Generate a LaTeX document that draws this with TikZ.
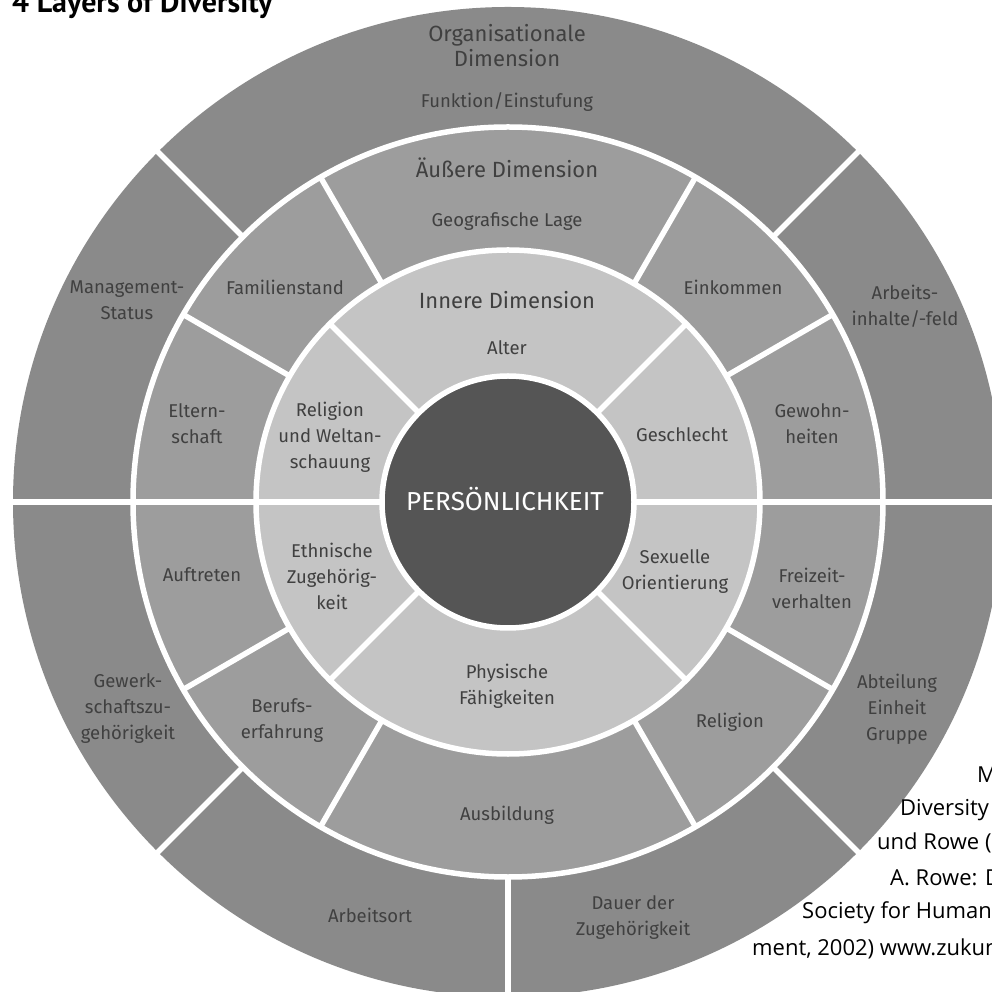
\documentclass[tikz,border=0pt]{standalone}
\usepackage{fontspec}
\setmainfont{Fira Sans}
\newfontfamily\dinfont{PT Sans}
\newfontfamily\citefont{Open Sans}
\usetikzlibrary{calc}
\definecolor{ringouter}{HTML}{8A8A8A}
\definecolor{ringmid}{HTML}{9D9D9D}
\definecolor{ringinner}{HTML}{C4C4C4}
\definecolor{kerngray}{HTML}{555555}
\definecolor{labeltext}{HTML}{404040}
\tikzset{
  gap/.style={draw=white,line width=5.5pt},
  lbl/.style={font=\fontsize{18.5}{26}\selectfont,text=labeltext,align=center,inner sep=0},
  head/.style={font=\fontsize{22}{25}\selectfont,text=labeltext,align=center,inner sep=0},
  cite/.style={font=\citefont\fontsize{22}{26}\selectfont,anchor=west,inner sep=0},
}
\begin{document}
\begin{tikzpicture}[x=10pt,y=10pt]
\useasboundingbox(-50.8,-49.0)rectangle(48.3,50.2);
\fill[white](-50.8,-49.0)rectangle(48.3,50.2);
%rings
\fill[ringouter](0,0)circle(49.5);
\filldraw[gap,fill=ringmid](0,0)circle(37.5);
\filldraw[gap,fill=ringinner](0,0)circle(25.2);
\draw[gap](-51,0)--(51,0);
%dividers
\foreach \a in {45,135,225,315}{
\draw[gap](\a:12)--(\a:25.2);
}
\foreach \a in {30,60,120,150,210,240,300,330}{
\draw[gap](\a:25.2)--(\a:37.5);
}
\foreach \a in {45,135,225,270,315}{
\draw[gap](\a:37.5)--(\a:50);
}
\filldraw[gap,fill=kerngray](0,0)circle(12.6);
%title
\node[font=\dinfont\bfseries\fontsize{30}{32}\selectfont,anchor=base west,inner sep=0](title)at(-49.6,48.93){4 Layers of Diversity};
%organisationale dimension
\node[head](org)at(-0.1,45.65){Organisationale\\Dimension};
\node[lbl](funktion)at(-0.1,40.0){Funktion/Einstufung};
\node[lbl](mgmt)at(-38.1,20.2){Management-\\Status};
\node[lbl](arbeitsfeld)at(39.7,19.6){Arbeits-\\inhalte/-feld};
\node[lbl](gewerkschaft)at(-38.0,-20.7){Gewerk-\\schaftszu-\\gehörigkeit};
\node[lbl](abteilung)at(38.9,-20.7){Abteilung\\Einheit\\Gruppe};
\node[lbl](arbeitsort)at(-13.8,-41.3){Arbeitsort};
\node[lbl](dauer)at(12.5,-41.6){Dauer der\\Zugehörigkeit};
%aeussere dimension
\node[head](aussen)at(-0.1,33.4){Äußere Dimension};
\node[lbl](geo)at(-0.1,28.0){Geografische Lage};
\node[lbl](familie)at(-22.3,21.5){Familienstand};
\node[lbl](einkommen)at(22.5,21.5){Einkommen};
\node[lbl](eltern)at(-31.1,7.8){Eltern-\\schaft};
\node[lbl](gewohn)at(30.4,7.8){Gewohn-\\heiten};
\node[lbl](auftreten)at(-30.6,-7.3){Auftreten};
\node[lbl](freizeit)at(30.4,-8.6){Freizeit-\\verhalten};
\node[lbl](beruf)at(-22.6,-21.9){Berufs-\\erfahrung};
\node[lbl](religion)at(22.2,-22.0){Religion};
\node[lbl](ausbildung)at(-0.1,-31.3){Ausbildung};
%innere dimension
\node[head](innen)at(-0.1,20.2){Innere Dimension};
\node[lbl](alter)at(-0.1,15.4){Alter};
\node[lbl](relwelt)at(-17.8,6.5){Religion\\und Weltan-\\schauung};
\node[lbl](geschlecht)at(17.4,6.7){Geschlecht};
\node[lbl](ethnie)at(-17.6,-7.4){Ethnische\\Zugehörig-\\keit};
\node[lbl](sexuell)at(16.7,-7.0){Sexuelle\\Orientierung};
\node[lbl](physis)at(-0.1,-18.4){Physische\\Fähigkeiten};
%kern
\node[font=\fontsize{26}{28}\selectfont,text=white,inner sep=0](kern)at(-0.3,0.3){PERSÖNLICHKEIT};
%source
\node[cite](cite1)at(46.9,-27.3){M};
\node[cite](cite2)at(39.2,-30.8){Diversity};
\node[cite](cite3)at(36.9,-34.1){und Rowe (};
\node[cite](cite4)at(38.2,-37.6){A. Rowe: D};
\node[cite](cite5)at(29.4,-41.1){Society for Human};
\node[cite](cite6)at(24.4,-44.7){ment, 2002) www.zukun};
\end{tikzpicture}
\end{document}
